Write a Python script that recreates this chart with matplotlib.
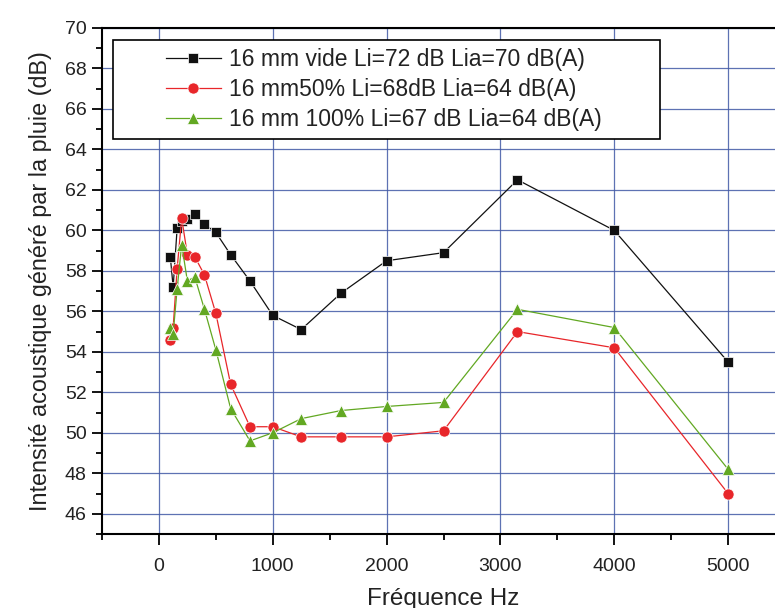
import matplotlib
matplotlib.use("Agg")
import matplotlib.pyplot as plt
from matplotlib.ticker import MultipleLocator
from matplotlib.legend_handler import HandlerLine2D

plt.rcParams['font.family'] = ['Liberation Sans', 'DejaVu Sans']

freq = [100, 125, 160, 200, 250, 315, 400, 500, 630, 800, 1000, 1250, 1600, 2000, 2500, 3150, 4000, 5000]
vide = [58.7, 57.2, 60.1, 60.45, 60.55, 60.8, 60.3, 59.9, 58.8, 57.5, 55.8, 55.1, 56.9, 58.5, 58.9, 62.5, 60.0, 53.5]
p50 = [54.6, 55.2, 58.1, 60.6, 58.8, 58.7, 57.8, 55.9, 52.4, 50.3, 50.3, 49.8, 49.8, 49.8, 50.1, 55.0, 54.2, 47.0]
p100 = [55.2, 54.9, 57.1, 59.3, 57.5, 57.7, 56.1, 54.1, 51.2, 49.6, 50.0, 50.7, 51.1, 51.3, 51.5, 56.1, 55.2, 48.2]
labels = ["16 mm vide Li=72 dB Lia=70 dB(A)",
          "16 mm50% Li=68dB Lia=64 dB(A)",
          "16 mm 100% Li=67 dB Lia=64 dB(A)"]

fig = plt.figure(figsize=(7.75, 6.08), dpi=100)
ax = fig.add_axes([102/775, 1 - 534/608, 683/775, 506/608])

l1, = ax.plot(freq, vide, color='#111111', lw=0.9, marker='s', ms=7, mfc='#111111', mec='white', mew=0.5, label=labels[0])
l2, = ax.plot(freq, p50, color='#e8262a', lw=0.9, marker='o', ms=8, mfc='#e8262a', mec='white', mew=0.5, label=labels[1])
l3, = ax.plot(freq, p100, color='#62a822', lw=0.9, marker='^', ms=9, mfc='#62a822', mec='white', mew=0.5, label=labels[2])

ax.set_xlim(-500, 5500)
ax.set_ylim(45, 70)
ax.xaxis.set_major_locator(MultipleLocator(1000))
ax.xaxis.set_minor_locator(MultipleLocator(500))
ax.yaxis.set_minor_locator(MultipleLocator(1))
ax.set_yticks(range(46, 71, 2))
ax.grid(True, which='major', color='#4259a6', lw=0.9, alpha=0.85)
ax.set_axisbelow(True)

ax.tick_params(axis='both', which='major', direction='out', length=7, width=1.3,
               labelsize=14, pad=4, labelcolor='#222222')
ax.tick_params(axis='x', which='major', length=8, pad=9)
ax.tick_params(axis='both', which='minor', direction='out', length=4, width=1.3)
for s in ax.spines.values():
    s.set_linewidth(1.5)

ax.set_xlabel("Fréquence Hz", fontsize=17.5, labelpad=10, color='#222222')
ax.set_ylabel("Intensité acoustique généré par la pluie (dB)", fontsize=16.8, labelpad=9, color='#222222')

hmap = {h: HandlerLine2D(xpad=1.96) for h in (l1, l2, l3)}
leg = ax.legend(handles=[l1, l2, l3], handler_map=hmap,
                loc='upper left', bbox_to_anchor=(0.0161, 0.0, 0.801, 0.976), mode='expand',
                borderaxespad=0, fontsize=16.5, frameon=True, fancybox=False, framealpha=1,
                edgecolor='black', handlelength=4.36, labelspacing=0.3, borderpad=0.35,
                handletextpad=0.35)
leg.get_frame().set_linewidth(1.2)
for t in leg.get_texts():
    t.set_color('#222222')

fig.savefig("out.png", dpi=100)
